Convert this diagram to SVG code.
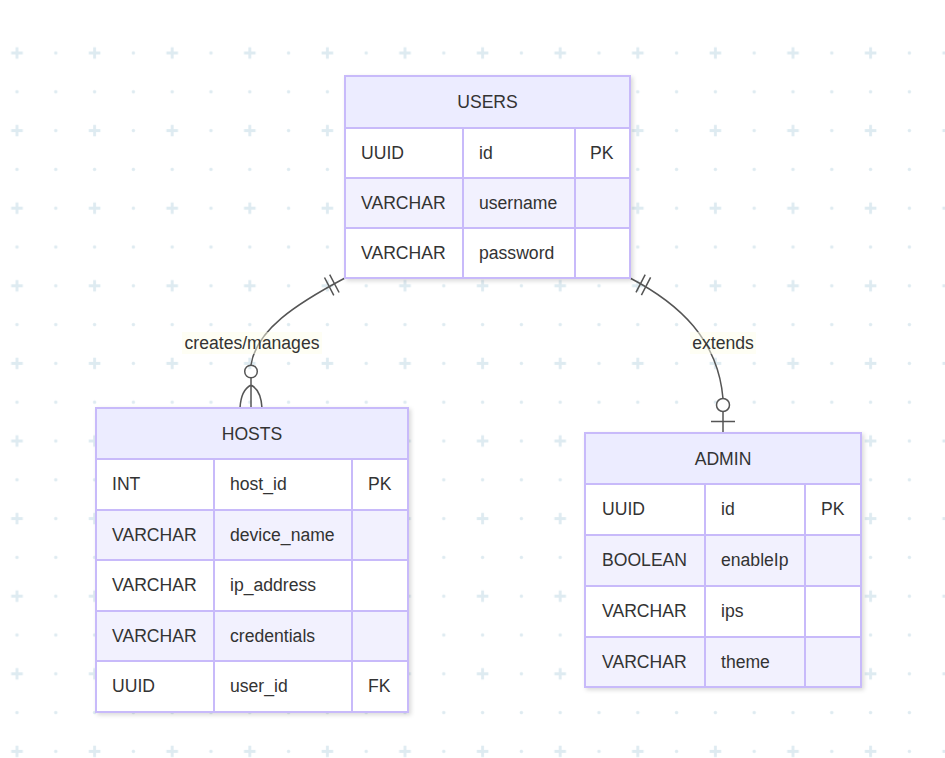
<svg xmlns="http://www.w3.org/2000/svg" width="945" height="758" viewBox="0 0 945 758">
  <defs>
    <pattern id="dots" patternUnits="userSpaceOnUse" x="-2.4" y="33.6" width="77.6" height="77.6">
      <path d="M13.6 19.4h11.6M19.4 13.6v11.6" stroke="#deebf1" stroke-width="2.8"/>
      <circle cx="58.2" cy="19.4" r="1.7" fill="#deebf1"/>
      <circle cx="19.4" cy="58.2" r="1.7" fill="#deebf1"/>
      <circle cx="58.2" cy="58.2" r="1.7" fill="#deebf1"/>
    </pattern>
    <filter id="shadow" x="-10%" y="-10%" width="120%" height="120%">
      <feDropShadow dx="2" dy="2" stdDeviation="2" flood-color="#000" flood-opacity="0.15"/>
    </filter>
    <style>
      .hdr { fill: #ececff; }
      .odd { fill: #ffffff; }
      .even { fill: #f2f1fe; }
      .box { fill: #ffffff; stroke: #c8bafa; stroke-width: 2; filter: url(#shadow); }
      .grid { stroke: #c8bafa; stroke-width: 2; fill: none; }
      .t { font-family: "Liberation Sans", Arial, sans-serif; font-size: 17.6px; fill: #333333; }
      .c { text-anchor: middle; }
      .edge { fill: none; stroke: #555555; stroke-width: 1.5; }
      .lbl { fill: #fdfdea; opacity: 0.5; }
    </style>
  </defs>

  <rect x="0" y="0" width="945" height="758" fill="#ffffff"/>
  <rect x="0" y="33" width="945" height="725" fill="url(#dots)"/>

  <!-- relationships -->
  <g id="connectors">
    <!-- USERS exactly one, HOSTS zero or many -->
    <path class="edge" d="M345 278 C296 304 256 330 251 365"/>
    <path class="edge" d="M329.7 274.7L339.1 292.5M324.5 277.5L333.8 295.3"/>
    <circle class="edge" cx="251" cy="371.5" r="6.3" fill="#ffffff"/>
    <path class="edge" d="M251 378V408M240 408Q241 390 251 385M262 408Q261 390 251 385"/>
    <rect class="lbl" x="182" y="332" width="140" height="22"/>
    <text class="t c" x="252" y="349">creates/manages</text>

    <!-- USERS exactly one, ADMIN zero or one -->
    <path class="edge" d="M630 278 C680 304 718 340 723 398.5"/>
    <path class="edge" d="M645.2 274.6L636 292.4M650.6 277.4L641.4 295.2"/>
    <circle class="edge" cx="723" cy="405" r="6.5" fill="#ffffff"/>
    <path class="edge" d="M723 411.5V433M711 421.5H735"/>
    <rect class="lbl" x="690" y="332" width="66" height="22"/>
    <text class="t c" x="723" y="349">extends</text>
  </g>

  <!-- USERS entity -->
  <g id="users">
    <rect class="box" x="345" y="76" width="285" height="202"/>
    <rect class="hdr" x="345" y="76" width="285" height="52"/>
    <rect class="odd" x="345" y="128" width="285" height="50"/>
    <rect class="even" x="345" y="178" width="285" height="50"/>
    <rect class="odd" x="345" y="228" width="285" height="50"/>
    <path class="grid" d="M345 128H630M345 178H630M345 228H630M463 128V278M575 128V278"/>
    <rect class="grid" x="345" y="76" width="285" height="202"/>
    <text class="t c" x="487.5" y="108">USERS</text>
    <text class="t" x="361" y="159">UUID</text>
    <text class="t" x="479" y="159">id</text>
    <text class="t" x="590" y="159">PK</text>
    <text class="t" x="361" y="209">VARCHAR</text>
    <text class="t" x="479" y="209">username</text>
    <text class="t" x="361" y="259">VARCHAR</text>
    <text class="t" x="479" y="259">password</text>
  </g>

  <!-- HOSTS entity -->
  <g id="hosts">
    <rect class="box" x="96" y="408" width="312" height="304"/>
    <rect class="hdr" x="96" y="408" width="312" height="51"/>
    <rect class="odd" x="96" y="459" width="312" height="51"/>
    <rect class="even" x="96" y="510" width="312" height="50"/>
    <rect class="odd" x="96" y="560" width="312" height="51"/>
    <rect class="even" x="96" y="611" width="312" height="50"/>
    <rect class="odd" x="96" y="661" width="312" height="51"/>
    <path class="grid" d="M96 459H408M96 510H408M96 560H408M96 611H408M96 661H408M214 459V712M352 459V712"/>
    <rect class="grid" x="96" y="408" width="312" height="304"/>
    <text class="t c" x="252" y="440">HOSTS</text>
    <text class="t" x="112" y="490">INT</text>
    <text class="t" x="230" y="490">host_id</text>
    <text class="t" x="368" y="490">PK</text>
    <text class="t" x="112" y="541">VARCHAR</text>
    <text class="t" x="230" y="541">device_name</text>
    <text class="t" x="112" y="591">VARCHAR</text>
    <text class="t" x="230" y="591">ip_address</text>
    <text class="t" x="112" y="642">VARCHAR</text>
    <text class="t" x="230" y="642">credentials</text>
    <text class="t" x="112" y="692">UUID</text>
    <text class="t" x="230" y="692">user_id</text>
    <text class="t" x="368" y="692">FK</text>
  </g>

  <!-- ADMIN entity -->
  <g id="admin">
    <rect class="box" x="585" y="433" width="276" height="254"/>
    <rect class="hdr" x="585" y="433" width="276" height="51"/>
    <rect class="odd" x="585" y="484" width="276" height="51"/>
    <rect class="even" x="585" y="535" width="276" height="51"/>
    <rect class="odd" x="585" y="586" width="276" height="51"/>
    <rect class="even" x="585" y="637" width="276" height="50"/>
    <path class="grid" d="M585 484H861M585 535H861M585 586H861M585 637H861M705 484V687M805 484V687"/>
    <rect class="grid" x="585" y="433" width="276" height="254"/>
    <text class="t c" x="723" y="465">ADMIN</text>
    <text class="t" x="602" y="515">UUID</text>
    <text class="t" x="721" y="515">id</text>
    <text class="t" x="821" y="515">PK</text>
    <text class="t" x="602" y="566">BOOLEAN</text>
    <text class="t" x="721" y="566">enableIp</text>
    <text class="t" x="602" y="617">VARCHAR</text>
    <text class="t" x="721" y="617">ips</text>
    <text class="t" x="602" y="668">VARCHAR</text>
    <text class="t" x="721" y="668">theme</text>
  </g>
</svg>
